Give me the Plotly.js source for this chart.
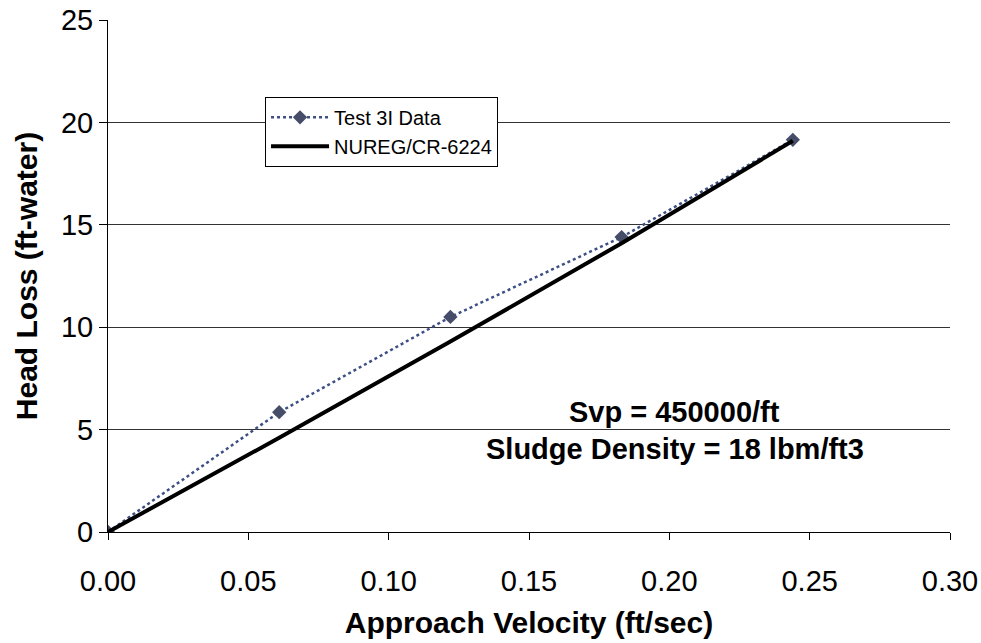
<!DOCTYPE html>
<html>
<head>
<meta charset="utf-8">
<script src="https://cdn.plot.ly/plotly-3.0.1.min.js"></script>
<style>html,body{margin:0;padding:0;background:#fff;}#chart{width:981px;height:643px;}</style>
</head>
<body>
<div id="chart"></div>
<script>
const velocity = [0.000, 0.061, 0.122, 0.183, 0.244];
const testData = [0.0, 5.85, 10.5, 14.4, 19.15];
const nuregModel = [0.0, 4.6, 9.3, 14.1, 19.1];
const seriesNames = ["Test 3I Data", "NUREG/CR-6224"];
const annotationLines = ["Svp = 450000/ft", "Sludge Density = 18 lbm/ft3"];

const traces = [
  {
    x: velocity, y: testData, name: seriesNames[0], type: "scatter", mode: "lines+markers",
    line: {color: "#3d4f85", width: 2.5, dash: "dot"},
    marker: {symbol: "diamond", size: 11, color: "#464d68"}
  },
  {
    x: velocity, y: nuregModel, name: seriesNames[1], type: "scatter", mode: "lines",
    line: {color: "#000000", width: 4}
  }
];

const layout = {
  width: 981, height: 643,
  margin: {l: 108, r: 31, t: 20, b: 111},
  paper_bgcolor: "#ffffff", plot_bgcolor: "#ffffff",
  font: {family: "Liberation Sans, Arial, sans-serif", color: "#000"},
  showlegend: true,
  legend: {
    x: 0.1865, y: 0.85, xanchor: "left", yanchor: "top",
    bgcolor: "#ffffff", bordercolor: "#000", borderwidth: 1,
    font: {size: 20, family: "Liberation Sans, Arial, sans-serif"},
    itemwidth: 58,
    tracegroupgap: 10
  },
  xaxis: {
    range: [0, 0.30], dtick: 0.05, tickformat: ".2f",
    showgrid: false, zeroline: false,
    showline: true, linecolor: "#000", linewidth: 1,
    ticks: "outside", ticklen: 7, tickcolor: "#000",
    ticklabelstandoff: 16,
    tickfont: {size: 29},
    title: {text: "<b>Approach Velocity (ft/sec)</b>", font: {size: 30}, standoff: 16}
  },
  yaxis: {
    range: [0, 25], dtick: 5,
    showgrid: true, gridcolor: "#333", gridwidth: 1,
    zeroline: false,
    showline: true, linecolor: "#000", linewidth: 1,
    ticks: "outside", ticklen: 8, tickcolor: "#000",
    ticklabelstandoff: 0,
    tickfont: {size: 29},
    title: {text: "<b>Head Loss (ft-water)</b>", font: {size: 30}, standoff: 14}
  },
  annotations: [
    {xref: "paper", yref: "paper", x: 0.673, y: 0.235, xanchor: "center", yanchor: "middle",
     text: "<b>" + annotationLines[0] + "</b>", showarrow: false, font: {size: 29}},
    {xref: "paper", yref: "paper", x: 0.673, y: 0.162, xanchor: "center", yanchor: "middle",
     text: "<b>" + annotationLines[1] + "</b>", showarrow: false, font: {size: 29}}
  ]
};

Plotly.newPlot("chart", traces, layout, {displayModeBar: false, staticPlot: true});
</script>
</body>
</html>
